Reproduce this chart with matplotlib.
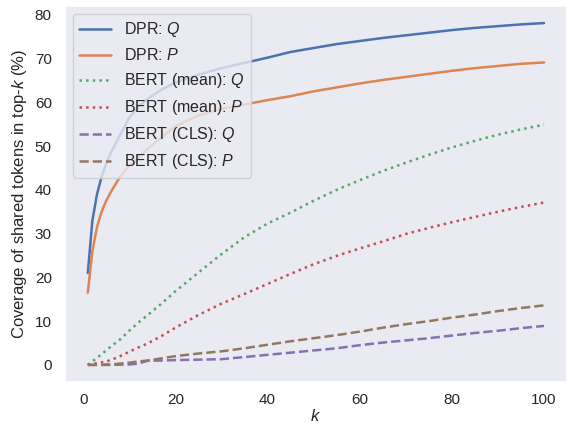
import matplotlib
matplotlib.use('Agg')
import matplotlib.pyplot as plt
import seaborn as sns

# top-k values
k = [1, 2, 3, 4, 5, 6, 8, 10, 12, 14, 17, 20, 25, 30, 35, 40, 45, 50,
     55, 60, 65, 70, 75, 80, 85, 90, 95, 100]

dpr_q = [21.0, 33.0, 39.0, 43.0, 46.0, 48.5, 52.5, 56.5, 59.0, 60.8, 62.9,
         64.5, 66.3, 67.8, 69.0, 70.2, 71.5, 72.4, 73.3, 74.0, 74.7, 75.3,
         75.9, 76.5, 77.0, 77.4, 77.8, 78.1]
dpr_p = [16.5, 26.0, 31.5, 35.0, 37.5, 39.5, 43.0, 45.5, 47.5, 49.4, 52.0,
         54.5, 57.0, 58.5, 59.5, 60.5, 61.4, 62.5, 63.4, 64.3, 65.1, 65.8,
         66.5, 67.2, 67.8, 68.3, 68.8, 69.1]
mean_q = [0.0, 0.8, 1.6, 2.5, 3.3, 4.2, 5.8, 7.8, 9.7, 11.4, 14.0, 16.8,
          21.1, 25.3, 29.2, 32.3, 34.8, 37.5, 40.0, 42.2, 44.3, 46.2, 48.0,
          49.7, 51.2, 52.6, 53.8, 54.9]
mean_p = [0.0, 0.2, 0.4, 0.6, 0.8, 1.1, 2.0, 3.0, 4.0, 4.9, 6.6, 8.5, 11.4,
          14.0, 16.2, 18.5, 20.8, 23.0, 24.9, 26.6, 28.2, 29.9, 31.3, 32.6,
          33.8, 35.0, 36.1, 37.1]
cls_q = [0.0, 0.0, 0.0, 0.0, 0.0, 0.0, 0.05, 0.1, 0.3, 0.95, 1.0, 1.1, 1.2,
         1.3, 1.8, 2.3, 2.8, 3.3, 3.8, 4.5, 5.1, 5.6, 6.1, 6.7, 7.3, 7.8,
         8.4, 8.9]
cls_p = [0.0, 0.0, 0.0, 0.0, 0.1, 0.1, 0.3, 0.5, 0.8, 1.0, 1.5, 2.0, 2.6,
         3.1, 3.8, 4.6, 5.4, 6.1, 6.8, 7.6, 8.5, 9.3, 10.0, 10.8, 11.5,
         12.3, 13.0, 13.6]

sns.set_theme(style='dark')
plt.rcParams['font.family'] = ['Liberation Sans', 'DejaVu Sans']
plt.rcParams['mathtext.fontset'] = 'custom'
plt.rcParams['mathtext.it'] = 'Liberation Sans:italic'
plt.rcParams['mathtext.rm'] = 'Liberation Sans'

pal = sns.color_palette('deep')

fig = plt.figure(figsize=(5.68, 4.28), dpi=100)
ax = fig.add_axes([0.1144, 0.1075, 0.8836, 0.8785])

ax.plot(k, dpr_q, color=pal[0], lw=1.8, label='DPR: $Q$')
ax.plot(k, dpr_p, color=pal[1], lw=1.8, label='DPR: $P$')
ax.plot(k, mean_q, color=pal[2], lw=1.8, ls=':', label='BERT (mean): $Q$')
ax.plot(k, mean_p, color=pal[3], lw=1.8, ls=':', label='BERT (mean): $P$')
ax.plot(k, cls_q, color=pal[4], lw=1.8, ls='--', label='BERT (CLS): $Q$')
ax.plot(k, cls_p, color=pal[5], lw=1.8, ls='--', label='BERT (CLS): $P$')

ax.set_xticks([0, 20, 40, 60, 80, 100])
ax.set_yticks(range(0, 81, 10))
ax.tick_params(labelsize=11)
ax.tick_params(axis='x', pad=2)
ax.set_xlabel('$k$', fontsize=12, labelpad=1)
ax.set_ylabel('Coverage of shared tokens in top-$k$ (%)', fontsize=12)
ax.legend(loc='upper left', fontsize=11.5)

fig.savefig('out.png', dpi=100)
